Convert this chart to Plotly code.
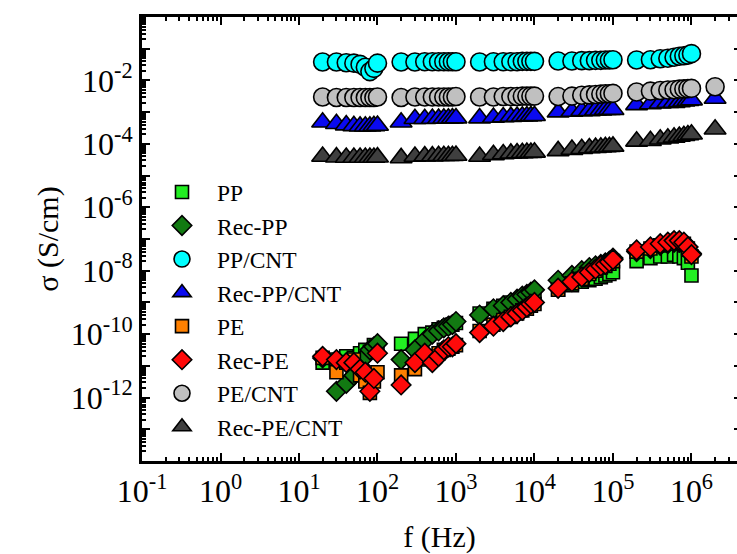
import plotly.graph_objects as go

# ---------------- data ----------------
FREQ = [20, 30, 40, 50, 60, 70, 80, 90, 100,
        200, 300, 400, 500, 600, 700, 800, 900, 1e3,
        2e3, 3e3, 4e3, 5e3, 6e3, 7e3, 8e3, 9e3, 1e4,
        2e4, 3e4, 4e4, 5e4, 6e4, 7e4, 8e4, 9e4, 1e5,
        2e5, 3e5, 4e5, 5e5, 6e5, 7e5, 8e5, 9e5, 1e6]
FREQ_EXT = FREQ + [2e6]

PP = [1.26e-11, 1.58e-11, 2.0e-11, 1.78e-11, 2.5e-11, 3.2e-11, 2.8e-11, 4.5e-11, 3.5e-11,
      5.0e-11, 7.1e-11, 1.0e-10, 1.12e-10, 1.41e-10, 1.58e-10, 1.78e-10, 2.0e-10, 2.24e-10,
      4.5e-10, 6.3e-10, 7.9e-10, 1.0e-9, 1.12e-9, 1.26e-9, 1.41e-9, 1.58e-9, 1.78e-9,
      2.5e-9, 3.5e-9, 4.5e-9, 5.0e-9, 5.6e-9, 6.3e-9, 7.1e-9, 7.9e-9, 8.9e-9,
      2.0e-8, 2.5e-8, 2.8e-8, 2.8e-8, 3.2e-8, 2.8e-8, 2.5e-8, 1.78e-8, 7.1e-9]

REC_PP = [1.78e-11, 1.58e-12, 2.8e-12, 5.0e-12, 1.0e-11, 2.0e-11, 3.2e-11, 4.0e-11, 5.0e-11,
          1.58e-11, 3.2e-11, 6.3e-11, 1.0e-10, 1.26e-10, 1.58e-10, 1.78e-10, 2.0e-10, 2.5e-10,
          4.0e-10, 6.3e-10, 7.9e-10, 1.0e-9, 1.26e-9, 1.58e-9, 1.78e-9, 2.1e-9, 2.5e-9,
          5.0e-9, 7.1e-9, 1.0e-8, 1.26e-8, 1.41e-8, 1.58e-8, 1.78e-8, 2.0e-8, 2.5e-8,
          4.0e-8, 5.0e-8, 6.3e-8, 7.1e-8, 7.9e-8, 7.9e-8, 7.1e-8, 5.6e-8, 3.5e-8]

PP_CNT = [3.8e-2, 3.8e-2, 3.6e-2, 3.5e-2, 3.2e-2, 2.6e-2, 1.9e-2, 2.4e-2, 3.5e-2,
          3.8e-2, 3.8e-2, 3.9e-2, 3.9e-2, 3.9e-2, 3.9e-2, 3.9e-2, 3.9e-2, 3.9e-2,
          3.8e-2, 3.9e-2, 3.9e-2, 3.9e-2, 3.9e-2, 4.0e-2, 4.0e-2, 4.0e-2, 4.0e-2,
          4.1e-2, 4.1e-2, 4.2e-2, 4.2e-2, 4.3e-2, 4.3e-2, 4.4e-2, 4.4e-2, 4.5e-2,
          4.4e-2, 4.5e-2, 4.8e-2, 5.0e-2, 5.4e-2, 5.8e-2, 6.0e-2, 6.3e-2, 7.0e-2]

REC_PP_CNT = [4.8e-4, 4.3e-4, 3.9e-4, 3.7e-4, 3.6e-4, 3.6e-4, 3.6e-4, 3.7e-4, 3.8e-4,
              4.8e-4, 6.2e-4, 6.2e-4, 6.3e-4, 6.3e-4, 6.4e-4, 6.4e-4, 6.5e-4, 6.5e-4,
              6.5e-4, 6.8e-4, 7.0e-4, 7.2e-4, 7.3e-4, 7.4e-4, 7.5e-4, 7.6e-4, 7.7e-4,
              1.0e-3, 1.05e-3, 1.1e-3, 1.1e-3, 1.15e-3, 1.15e-3, 1.2e-3, 1.2e-3, 1.2e-3,
              1.7e-3, 1.8e-3, 1.9e-3, 2.0e-3, 2.0e-3, 2.1e-3, 2.2e-3, 2.3e-3, 2.4e-3, 2.7e-3]

PE = [1.78e-11, 6.3e-12, 1.26e-11, 1.58e-11, 5.0e-12, 3.2e-12, 1.41e-12, 3.2e-12, 6.3e-12,
      5.0e-12, 7.9e-12, 1.58e-11, 2.0e-11, 2.5e-11, 3.2e-11, 3.5e-11, 4.0e-11, 4.5e-11,
      1.26e-10, 2.0e-10, 2.8e-10, 3.5e-10, 4.5e-10, 5.6e-10, 6.3e-10, 7.9e-10, 8.9e-10,
      2.5e-9, 4.0e-9, 5.6e-9, 7.9e-9, 1.0e-8, 1.26e-8, 1.41e-8, 1.66e-8, 2.0e-8,
      4.0e-8, 5.0e-8, 6.3e-8, 7.1e-8, 7.9e-8, 7.9e-8, 7.1e-8, 5.0e-8, 2.8e-8]

REC_PE = [2.0e-11, 1.58e-11, 1.26e-11, 1.26e-11, 7.9e-12, 6.3e-12, 1.58e-12, 4.0e-12, 2.5e-11,
          2.5e-12, 1.26e-11, 2.5e-11, 1.26e-11, 2.0e-11, 3.2e-11, 4.0e-11, 4.0e-11, 5.0e-11,
          1.12e-10, 1.78e-10, 2.5e-10, 3.5e-10, 4.5e-10, 5.6e-10, 7.1e-10, 8.9e-10, 1.0e-9,
          2.8e-9, 4.5e-9, 6.3e-9, 8.9e-9, 1.12e-8, 1.41e-8, 1.58e-8, 1.9e-8, 2.24e-8,
          4.5e-8, 5.6e-8, 7.1e-8, 7.9e-8, 8.9e-8, 8.9e-8, 7.9e-8, 5.6e-8, 3.2e-8]

PE_CNT = [3.0e-3, 2.9e-3, 2.9e-3, 2.9e-3, 2.9e-3, 2.9e-3, 2.9e-3, 2.9e-3, 3.0e-3,
          2.9e-3, 3.0e-3, 3.0e-3, 3.0e-3, 3.0e-3, 3.0e-3, 3.0e-3, 3.0e-3, 3.1e-3,
          3.0e-3, 3.0e-3, 3.1e-3, 3.1e-3, 3.1e-3, 3.2e-3, 3.2e-3, 3.2e-3, 3.2e-3,
          3.1e-3, 3.2e-3, 3.4e-3, 3.5e-3, 3.6e-3, 3.7e-3, 3.8e-3, 3.8e-3, 3.9e-3,
          4.3e-3, 4.6e-3, 4.8e-3, 5.0e-3, 5.1e-3, 5.3e-3, 5.4e-3, 5.5e-3, 5.6e-3, 6.3e-3]

REC_PE_CNT = [4.0e-5, 3.8e-5, 3.7e-5, 3.7e-5, 3.7e-5, 3.7e-5, 3.7e-5, 3.7e-5, 3.8e-5,
              3.6e-5, 4.0e-5, 4.1e-5, 4.1e-5, 4.2e-5, 4.2e-5, 4.2e-5, 4.2e-5, 4.3e-5,
              4.0e-5, 4.5e-5, 4.8e-5, 5.0e-5, 5.1e-5, 5.2e-5, 5.3e-5, 5.3e-5, 5.4e-5,
              6.0e-5, 6.6e-5, 7.0e-5, 7.4e-5, 7.6e-5, 7.8e-5, 8.0e-5, 8.1e-5, 8.3e-5,
              1.2e-4, 1.25e-4, 1.4e-4, 1.5e-4, 1.6e-4, 1.7e-4, 1.8e-4, 1.9e-4, 2.0e-4, 2.9e-4]

SERIES_NAMES = ["PP", "Rec-PP", "PP/CNT", "Rec-PP/CNT", "PE", "Rec-PE", "PE/CNT", "Rec-PE/CNT"]

X_TICK_VALS = [1e-1, 1e0, 1e1, 1e2, 1e3, 1e4, 1e5, 1e6]
X_TICK_LABELS = ["10<sup>-1</sup>", "10<sup>0</sup>", "10<sup>1</sup>", "10<sup>2</sup>",
                 "10<sup>3</sup>", "10<sup>4</sup>", "10<sup>5</sup>", "10<sup>6</sup>"]
Y_TICK_VALS = [1e-12, 1e-10, 1e-8, 1e-6, 1e-4, 1e-2]
Y_TICK_LABELS = ["10<sup>-12</sup>", "10<sup>-10</sup>", "10<sup>-8</sup>",
                 "10<sup>-6</sup>", "10<sup>-4</sup>", "10<sup>-2</sup>"]
Y_DECADES = [1e-14, 1e-13, 1e-12, 1e-11, 1e-10, 1e-9, 1e-8, 1e-7,
             1e-6, 1e-5, 1e-4, 1e-3, 1e-2, 1e-1, 1e0]

# ---------------- styling ----------------
FONT = "Liberation Serif, Times New Roman, Times, serif"
series = [
    (FREQ, PP, "square", "#22ee22", 13),
    (FREQ, REC_PP, "diamond", "#127a12", 15),
    (FREQ, PP_CNT, "circle", "#00ffff", 18),
    (FREQ_EXT, REC_PP_CNT, "triangle-up", "#0a0af0", 19),
    (FREQ, PE, "square", "#ff8000", 13),
    (FREQ, REC_PE, "diamond", "#ff0a0a", 15),
    (FREQ_EXT, PE_CNT, "circle", "#c0c0c0", 18),
    (FREQ_EXT, REC_PE_CNT, "triangle-up", "#3f3f3f", 19),
]

fig = go.Figure()
for name, (xs, ys, sym, col, sz) in zip(SERIES_NAMES, series):
    fig.add_trace(go.Scatter(
        x=xs, y=ys, mode="markers", name=name,
        marker=dict(symbol=sym, size=sz, color=col, line=dict(color="black", width=1.6)),
    ))
# empty helper traces so the tick-only overlay axes are drawn
fig.add_trace(go.Scatter(x=[], y=[], yaxis="y2", showlegend=False, hoverinfo="skip"))
fig.add_trace(go.Scatter(x=[], y=[], yaxis="y3", showlegend=False, hoverinfo="skip"))

x_minor = [m * 10 ** d for d in range(-1, 7) for m in range(2, 10)]
y_minor = [m * 10.0 ** d for d in range(-14, 0) for m in range(2, 10)]

TICKFONT = dict(family=FONT, size=32, color="black")
TITLEFONT = dict(family=FONT, size=30, color="black")

fig.update_layout(
    width=737, height=554, autosize=False,
    margin=dict(l=142, r=0, t=17, b=93),
    paper_bgcolor="white", plot_bgcolor="white",
    font=dict(family=FONT, color="black"),
    showlegend=True,
    legend=dict(x=0.0084, y=0.655, xanchor="left", yanchor="top",
                bgcolor="rgba(0,0,0,0)", font=dict(family=FONT, size=23.5, color="black"),
                itemwidth=60, tracegroupgap=0),
    xaxis=dict(type="log", range=[-1, 6.58], showgrid=False, zeroline=False,
               showline=True, linewidth=3, linecolor="black", mirror="ticks",
               ticks="inside", ticklen=8, tickwidth=2, tickcolor="black",
               tickmode="array", tickvals=X_TICK_VALS, ticktext=X_TICK_LABELS,
               tickfont=TICKFONT,
               minor=dict(tickmode="array", tickvals=x_minor, ticks="inside", ticklen=4,
                          tickwidth=1.5, tickcolor="black", showgrid=False),
               title=dict(text="f (Hz)", font=TITLEFONT, standoff=25)),
    yaxis=dict(type="log", range=[-14, 0], showgrid=False, zeroline=False,
               showline=True, linewidth=3, linecolor="black", mirror=False,
               ticks="inside", ticklen=8, tickwidth=2, tickcolor="black",
               tickmode="array", tickvals=Y_TICK_VALS, ticktext=Y_TICK_LABELS,
               tickfont=TICKFONT,
               minor=dict(tickmode="array", tickvals=y_minor, ticks="inside", ticklen=4,
                          tickwidth=1.5, tickcolor="black", showgrid=False),
               title=dict(text="σ (S/cm)", font=TITLEFONT, standoff=4)),
    yaxis2=dict(type="log", range=[-14, 0], overlaying="y", side="right", anchor="x",
                showgrid=False, zeroline=False, showline=False, showticklabels=False,
                ticks="inside", ticklen=3, tickwidth=2, tickcolor="black",
                tickmode="array", tickvals=Y_DECADES),
    yaxis3=dict(type="log", range=[-14, 0], overlaying="y", side="left", anchor="x",
                showgrid=False, zeroline=False, showline=False, showticklabels=False,
                ticks="inside", ticklen=8, tickwidth=2, tickcolor="black",
                tickmode="array", tickvals=Y_DECADES),
)

fig.write_html("out.html")
